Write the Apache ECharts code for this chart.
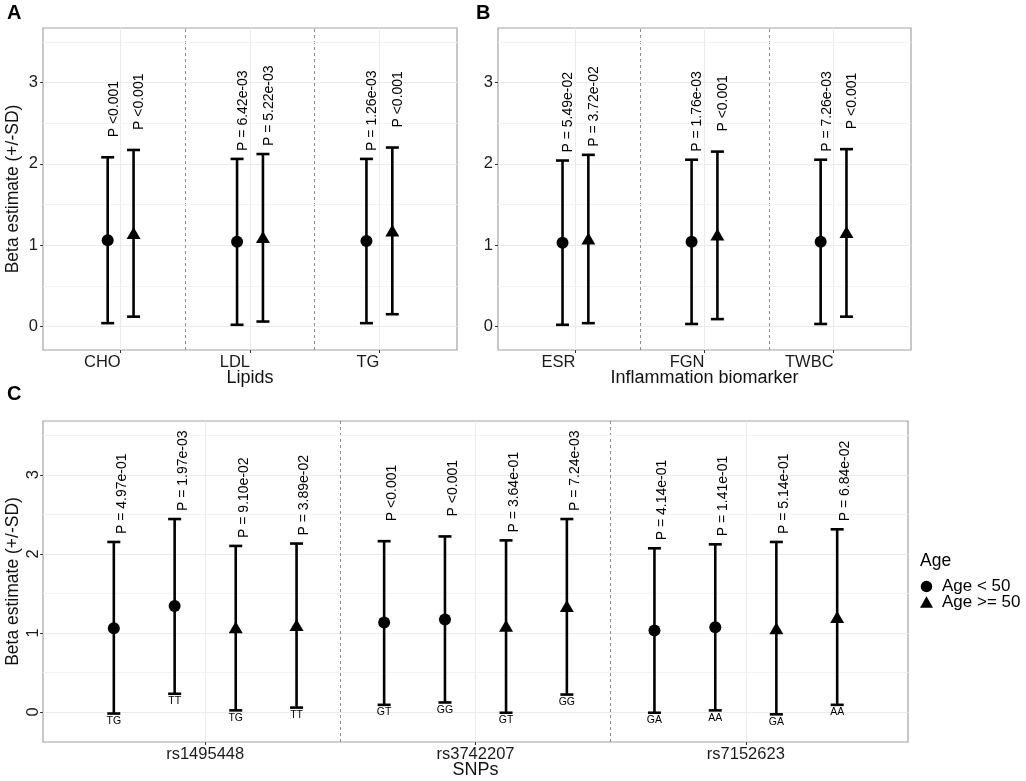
<!DOCTYPE html>
<html>
<head>
<meta charset="utf-8">
<script src="https://cdn.jsdelivr.net/npm/echarts@6/dist/echarts.min.js"></script>
<style>html,body{margin:0;background:#fff}#chart{width:1026px;height:781px}</style>
</head>
<body>
<div id="chart"></div>
<script>
// categories
const lipidCats = ['CHO', 'LDL', 'TG'];
const inflamCats = ['ESR', 'FGN', 'TWBC'];
const snpCats = ['rs1495448', 'rs3742207', 'rs7152623'];
const ageGroups = ['Age < 50', 'Age >= 50'];
const yTicks = [0, 1, 2, 3];

// panel A - lipids
const lipidEstYoung = [1.06, 1.04, 1.05];
const lipidLowYoung = [0.04, 0.02, 0.04];
const lipidHighYoung = [2.08, 2.06, 2.06];
const lipidPYoung = ['P <0.001', 'P = 6.42e-03', 'P = 1.26e-03'];
const lipidEstOld = [1.15, 1.10, 1.18];
const lipidLowOld = [0.12, 0.06, 0.15];
const lipidHighOld = [2.17, 2.12, 2.20];
const lipidPOld = ['P <0.001', 'P = 5.22e-03', 'P <0.001'];

// panel B - inflammation biomarkers
const inflamEstYoung = [1.03, 1.04, 1.04];
const inflamLowYoung = [0.02, 0.03, 0.03];
const inflamHighYoung = [2.04, 2.05, 2.05];
const inflamPYoung = ['P = 5.49e-02', 'P = 1.76e-03', 'P = 7.26e-03'];
const inflamEstOld = [1.08, 1.13, 1.16];
const inflamLowOld = [0.04, 0.09, 0.12];
const inflamHighOld = [2.11, 2.15, 2.18];
const inflamPOld = ['P = 3.72e-02', 'P <0.001', 'P <0.001'];

// panel C - SNPs, four estimates per SNP
const snpOf = [0, 0, 0, 0, 1, 1, 1, 1, 2, 2, 2, 2];
const snpAge = [0, 0, 1, 1, 0, 0, 1, 1, 0, 0, 1, 1];
const snpGeno = ['TG', 'TT', 'TG', 'TT', 'GT', 'GG', 'GT', 'GG', 'GA', 'AA', 'GA', 'AA'];
const snpEst = [1.06, 1.34, 1.07, 1.10, 1.13, 1.17, 1.09, 1.34, 1.03, 1.07, 1.06, 1.20];
const snpLow = [-0.02, 0.23, 0.02, 0.055, 0.09, 0.12, -0.01, 0.22, -0.01, 0.02, -0.03, 0.09];
const snpHigh = [2.15, 2.44, 2.10, 2.13, 2.16, 2.22, 2.17, 2.44, 2.07, 2.12, 2.15, 2.31];
const snpP = ['P = 4.97e-01', 'P = 1.97e-03', 'P = 9.10e-02', 'P = 3.89e-02',
              'P <0.001', 'P <0.001', 'P = 3.64e-01', 'P = 7.24e-03',
              'P = 4.14e-01', 'P = 1.41e-01', 'P = 5.14e-01', 'P = 6.84e-02'];

const FONT = '"Liberation Sans", Arial, sans-serif';
const symbols = ['circle', 'triangle'];
const symSizes = [12, [14, 12]];

// dodge offsets (category units)
const dodge2 = [-0.1, 0.1];
const dodge4 = [-0.338, -0.113, 0.113, 0.338];

function twoGroupPoints(est, low, high, pv, est2, low2, high2, pv2) {
  let pts = [];
  for (let i = 0; i < est.length; i++) {
    pts.push({x: i + 1 + dodge2[0], est: est[i], lo: low[i], hi: high[i], p: pv[i], age: 0});
    pts.push({x: i + 1 + dodge2[1], est: est2[i], lo: low2[i], hi: high2[i], p: pv2[i], age: 1});
  }
  return pts;
}

let ptsA = twoGroupPoints(lipidEstYoung, lipidLowYoung, lipidHighYoung, lipidPYoung,
                          lipidEstOld, lipidLowOld, lipidHighOld, lipidPOld);
let ptsB = twoGroupPoints(inflamEstYoung, inflamLowYoung, inflamHighYoung, inflamPYoung,
                          inflamEstOld, inflamLowOld, inflamHighOld, inflamPOld);
let ptsC = [];
for (let i = 0; i < snpEst.length; i++) {
  ptsC.push({x: snpOf[i] + 1 + dodge4[i % 4], est: snpEst[i], lo: snpLow[i], hi: snpHigh[i],
             p: snpP[i], geno: snpGeno[i], age: snpAge[i]});
}

function barRenderer(pts, labelDx) {
  return function (params, api) {
    let p = pts[params.dataIndex];
    let top = api.coord([p.x, p.hi]);
    let bot = api.coord([p.x, p.lo]);
    let cx = top[0];
    let st = {stroke: '#000', lineWidth: 2.6};
    let gap = p.p.indexOf('<') >= 0 ? 20 : 8;
    let children = [
      {type: 'line', shape: {x1: cx, y1: top[1], x2: cx, y2: bot[1]}, style: st},
      {type: 'line', shape: {x1: cx - 6.5, y1: top[1], x2: cx + 6.5, y2: top[1]}, style: st},
      {type: 'line', shape: {x1: cx - 6.5, y1: bot[1], x2: cx + 6.5, y2: bot[1]}, style: st},
      {type: 'text', x: cx + labelDx, y: top[1] - gap, rotation: Math.PI / 2,
       style: {text: p.p, fill: '#000', fontSize: 14, fontFamily: FONT, align: 'left', verticalAlign: 'middle'}}
    ];
    if (p.geno) {
      children.push({type: 'text', x: cx, y: bot[1] + 2,
        style: {text: p.geno, fill: '#000', fontSize: 10.5, fontFamily: FONT, align: 'center', verticalAlign: 'top'}});
    }
    return {type: 'group', children: children};
  };
}

function isWhole(v) { return Math.abs(v - Math.round(v)) < 1e-6; }

function xAxisFor(gi, cats, name, align) {
  let pos = cats.map((c, i) => i + 1);
  return {
    type: 'value', gridIndex: gi, min: 0.4, max: 3.6, splitNumber: 3,
    axisLine: {show: false, onZero: false},
    axisTick: {show: true, length: 3, lineStyle: {color: '#333'}, customValues: pos},
    axisLabel: {margin: 4, fontSize: 16.5, color: '#1a1a1a', fontFamily: FONT, align: align, customValues: pos,
      formatter: v => isWhole(v) && cats[Math.round(v) - 1] ? cats[Math.round(v) - 1] : ''},
    splitLine: {show: true, lineStyle: {color: '#ebebeb', width: 1}},
    name: name, nameLocation: 'middle', nameGap: 19, nameMoveOverlap: false,
    nameTextStyle: {fontSize: 18, color: '#111', fontFamily: FONT}
  };
}

function yAxisFor(gi, min, max, rotated, name) {
  return {
    type: 'value', gridIndex: gi, min: min, max: max, splitNumber: 4,
    axisLine: {show: false, onZero: false},
    axisTick: {show: true, length: 3, lineStyle: {color: '#333'}, customValues: yTicks},
    axisLabel: {margin: rotated ? 1 : 5, fontSize: 16.5, color: '#1a1a1a', fontFamily: FONT, rotate: rotated ? 90 : 0,
      customValues: yTicks, formatter: v => isWhole(v) ? String(Math.round(v)) : ''},
    splitLine: {show: true, lineStyle: {color: '#ebebeb', width: 1}},
    name: name, nameLocation: 'middle', nameGap: 21, nameMoveOverlap: false,
    nameTextStyle: {fontSize: 17.5, color: '#111', fontFamily: FONT}
  };
}

function panelSeries(gi, pts, labelDx) {
  let out = [];
  out.push({
    type: 'custom', xAxisIndex: gi, yAxisIndex: gi, clip: false, silent: true, z: 3,
    data: pts.map(p => [p.x, p.lo, p.hi]),
    encode: {x: 0, y: [1, 2]},
    renderItem: barRenderer(pts, labelDx)
  });
  for (let a = 0; a < 2; a++) {
    let s = {
      type: 'scatter', name: ageGroups[a], xAxisIndex: gi, yAxisIndex: gi, z: 4,
      symbol: symbols[a], symbolSize: symSizes[a],
      itemStyle: {color: '#000', opacity: 1},
      data: pts.filter(p => p.age === a).map(p => [p.x, p.est])
    };
    if (a === 0) {
      s.markLine = {
        silent: true, symbol: 'none', label: {show: false}, z: 1,
        data: [
          {xAxis: 1.5, lineStyle: {type: [3, 3], color: '#8c8c8c', width: 1}},
          {xAxis: 2.5, lineStyle: {type: [3, 3], color: '#8c8c8c', width: 1}},
          {yAxis: 0.5, lineStyle: {type: 'solid', color: '#f3f3f3', width: 1}},
          {yAxis: 1.5, lineStyle: {type: 'solid', color: '#f3f3f3', width: 1}},
          {yAxis: 2.5, lineStyle: {type: 'solid', color: '#f3f3f3', width: 1}},
          {yAxis: 3.5, lineStyle: {type: 'solid', color: '#f3f3f3', width: 1}}
        ]
      };
    }
    out.push(s);
  }
  return out;
}

let gridStyle = {show: true, borderColor: '#a3a3a3', borderWidth: 1.2, backgroundColor: '#fff',
                 containLabel: false, outerBoundsMode: 'none'};

let option = {
  animation: false,
  grid: [
    Object.assign({left: 43, top: 28, width: 414, height: 322}, gridStyle),
    Object.assign({left: 498, top: 28, width: 413, height: 322}, gridStyle),
    Object.assign({left: 43, top: 421, width: 865, height: 321}, gridStyle)
  ],
  xAxis: [
    xAxisFor(0, lipidCats, 'Lipids', 'right'),
    xAxisFor(1, inflamCats, 'Inflammation biomarker', 'right'),
    xAxisFor(2, snpCats, 'SNPs', 'center')
  ],
  yAxis: [
    yAxisFor(0, -0.29, 3.67, false, 'Beta estimate (+/-SD)'),
    yAxisFor(1, -0.29, 3.67, false, ''),
    yAxisFor(2, -0.38, 3.68, true, 'Beta estimate (+/-SD)')
  ],
  legend: {
    orient: 'vertical', left: 915, top: 573, itemWidth: 13, itemHeight: 11.5, itemGap: -1.5,
    textStyle: {fontSize: 17, color: '#000', fontFamily: FONT, padding: [0, 0, 0, 4]},
    itemStyle: {color: '#000'},
    data: [{name: ageGroups[0], icon: 'circle'}, {name: ageGroups[1], icon: 'triangle'}]
  },
  graphic: [
    {type: 'text', left: 7, top: 3, style: {text: 'A', fontSize: 20, fontWeight: 'bold', fill: '#000', fontFamily: FONT}},
    {type: 'text', left: 476, top: 3, style: {text: 'B', fontSize: 20, fontWeight: 'bold', fill: '#000', fontFamily: FONT}},
    {type: 'text', left: 7, top: 384, style: {text: 'C', fontSize: 20, fontWeight: 'bold', fill: '#000', fontFamily: FONT}},
    {type: 'text', left: 920, top: 552, style: {text: 'Age', fontSize: 17.5, fill: '#000', fontFamily: FONT}}
  ],
  series: [].concat(panelSeries(0, ptsA, 6), panelSeries(1, ptsB, 6), panelSeries(2, ptsC, 8))
};

let mychart = echarts.init(document.getElementById('chart'));
mychart.setOption(option);
</script>
</body>
</html>
